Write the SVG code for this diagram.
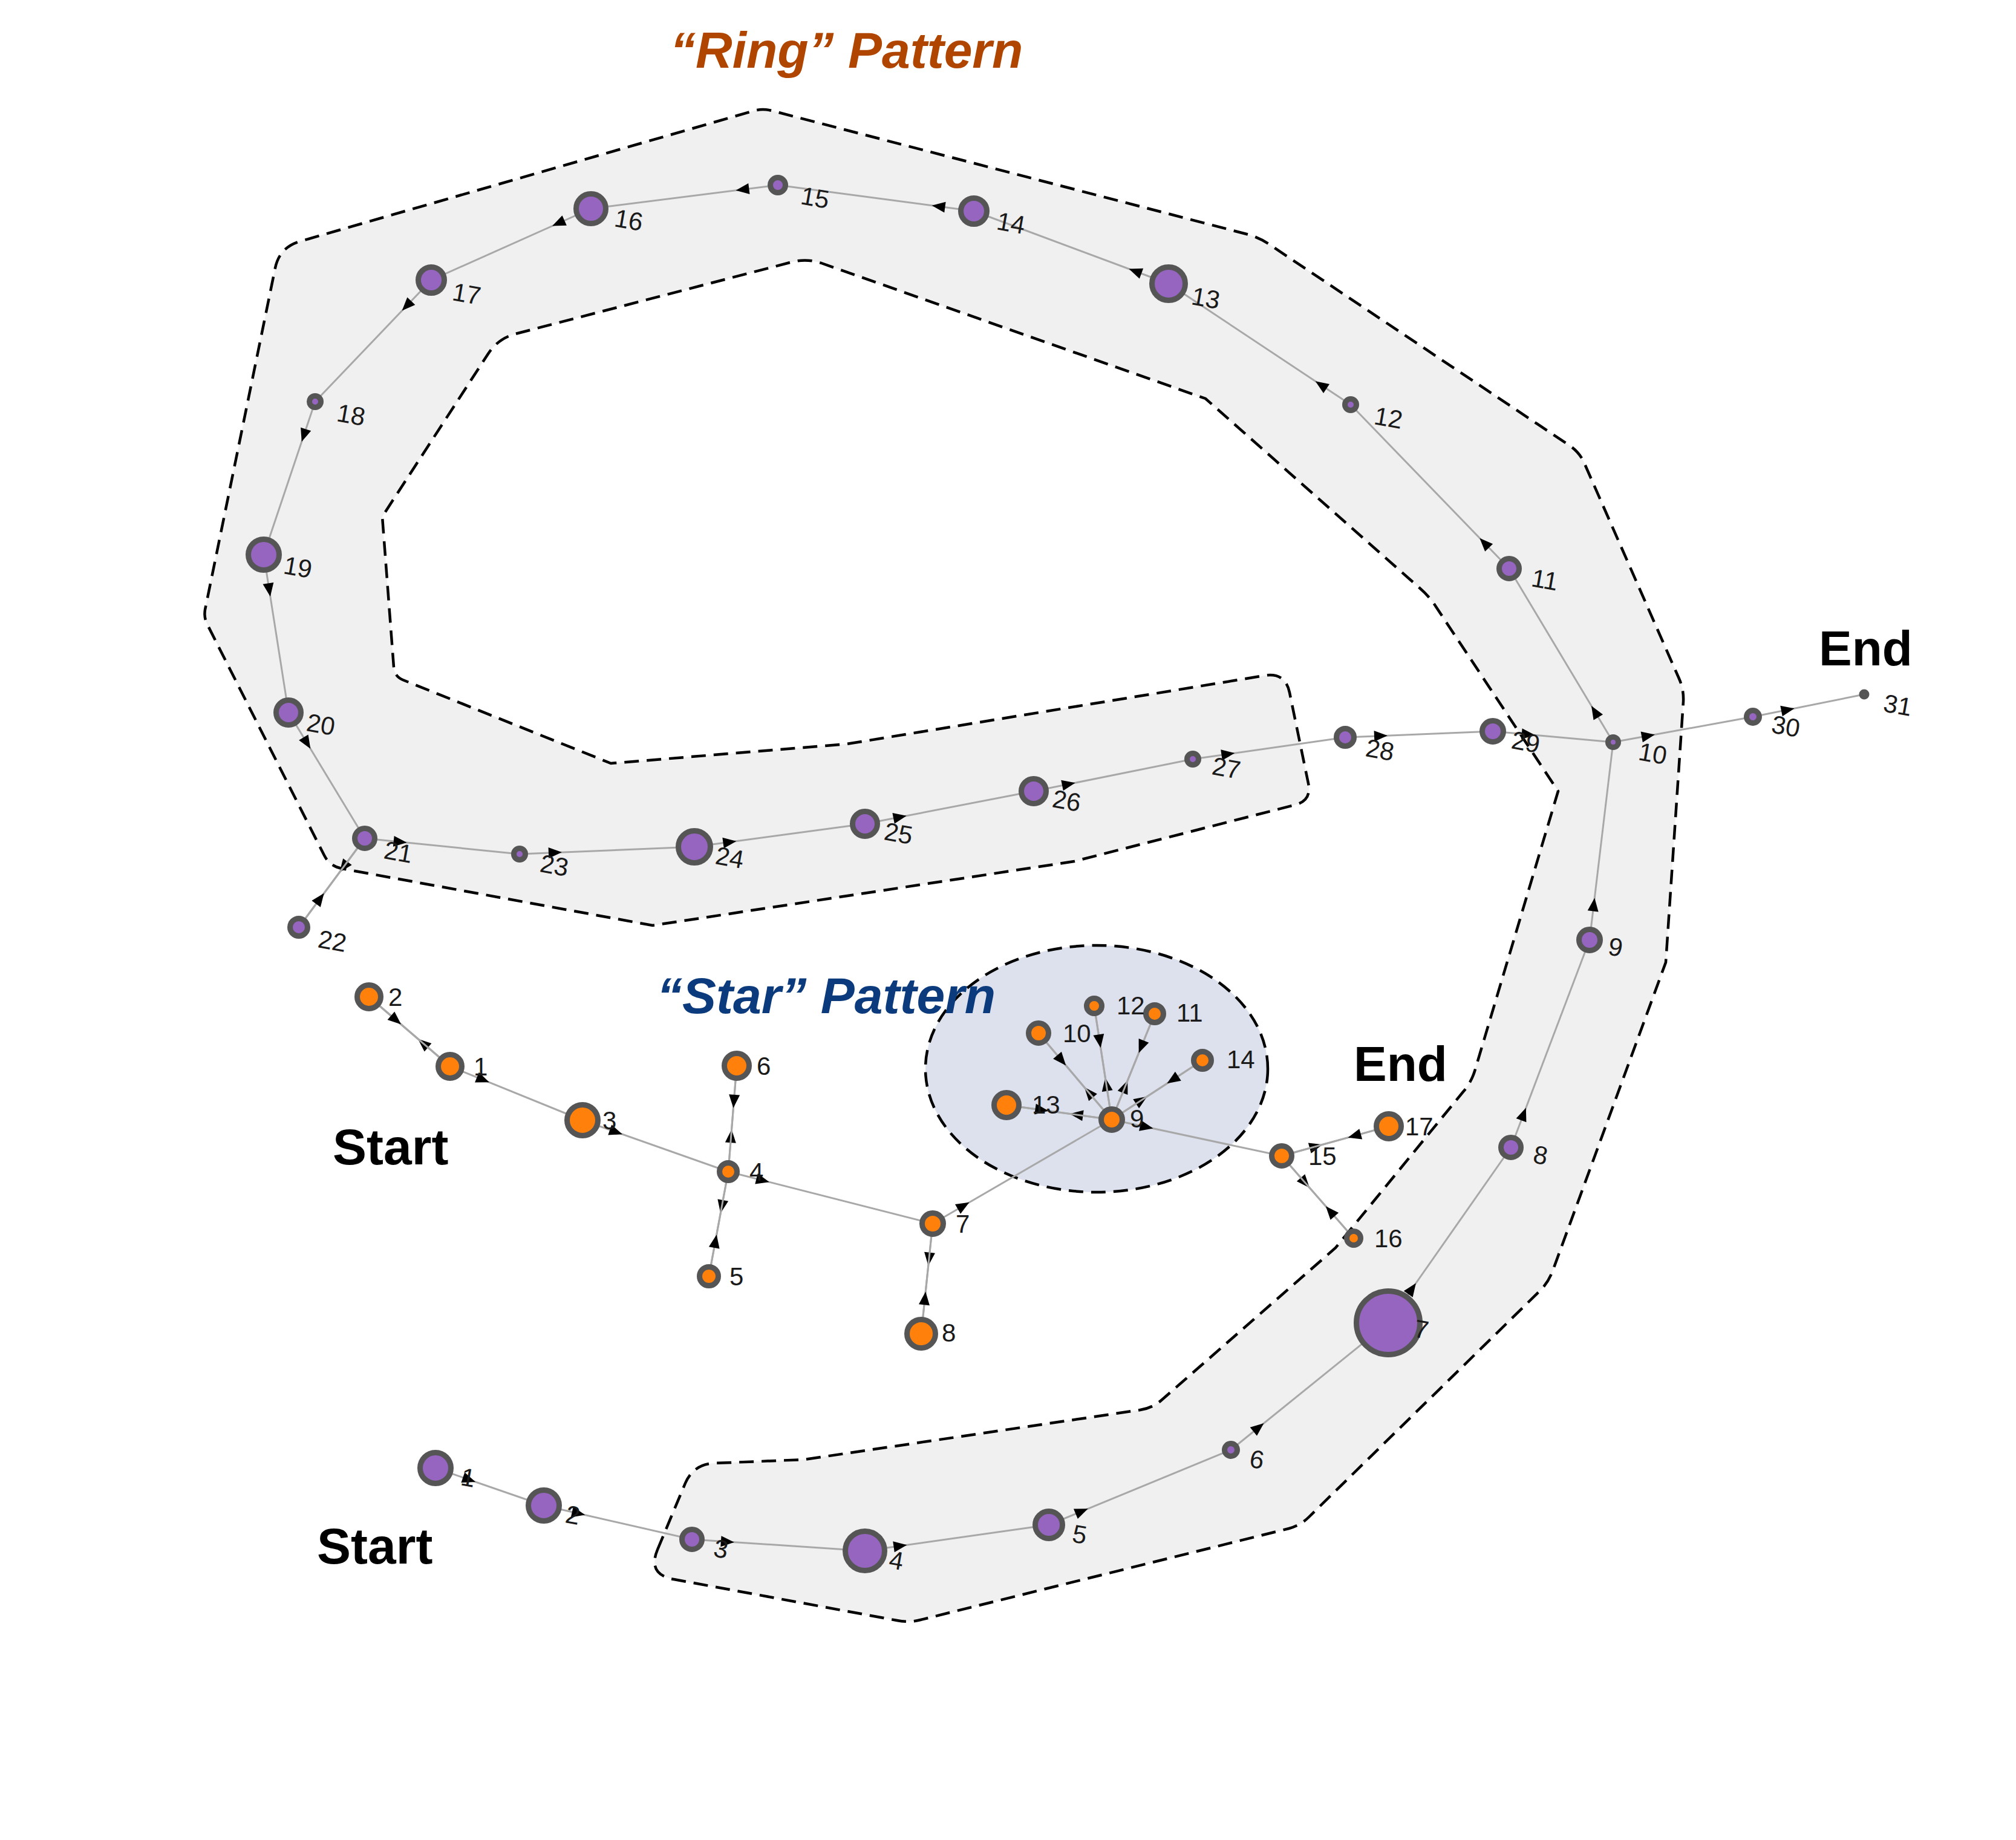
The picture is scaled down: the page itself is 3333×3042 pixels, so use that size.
<svg xmlns="http://www.w3.org/2000/svg" width="3333" height="3042" viewBox="0 0 3333 3042">
<style>
.zone{fill:#f0f0f0;stroke:#000;stroke-width:4.5;stroke-dasharray:24 13}
.star{fill:#dde1ed;stroke:#000;stroke-width:4.5;stroke-dasharray:24 13}
.e{stroke:#a8a8a8;stroke-width:3;fill:none;marker-start:url(#a)}
.pn{fill:#9565c0;stroke:#555;stroke-width:9}
.on{fill:#ff800a;stroke:#555;stroke-width:9}
.lbl{font-family:"Liberation Sans",Arial,sans-serif;font-size:42px;fill:#1a1a1a}
.big{font-family:"Liberation Sans",Arial,sans-serif;font-weight:bold;fill:#000}
.title{font-family:"Liberation Sans",Arial,sans-serif;font-weight:bold;font-style:italic;font-size:84px}
</style>
<defs>
<marker id="a" markerUnits="userSpaceOnUse" orient="auto" refX="0" refY="0" markerWidth="200" markerHeight="200" viewBox="-100 -100 200 200" overflow="visible">
<path d="M48,-9 L70,0 L48,9 Z" fill="#000"/>
</marker>
<marker id="b" markerUnits="userSpaceOnUse" orient="auto" refX="0" refY="0" markerWidth="200" markerHeight="200" viewBox="-100 -100 200 200" overflow="visible">
<path d="M58,-9 L80,0 L58,9 Z" fill="#000"/>
</marker>
</defs>
<rect width="3333" height="3042" fill="#fff"/>
<g id="ring-zone">
<path class="zone" d="M1087,2562 L1133,2452 Q1147,2420 1182,2419 L1330,2413 L1885,2331 Q1905,2328 1920,2315 L2208,2063 L2419,1805 Q2432,1790 2438,1771 L2576,1308 L2374,1003 Q2363,986 2348,973 L1993,659 L1358,435 Q1334,427 1310,433 L852,552 Q823,560 807,585 L632,854 L651,1103 Q652,1118 666,1124 L1010,1262 L1400,1230 L2090,1117 Q2125,1111 2132,1145 L2163,1295 Q2169,1324 2140,1331 L1776,1424 L1079,1530 L565,1436 Q545,1432 536,1414 L342,1031 Q337,1020 339,1008 L455,443 Q462,409 496,399 L1247,183 Q1261,179 1276,183 L2061,387 Q2080,392 2097,403 L2594,736 Q2611,747 2619,765 L2776,1122 Q2784,1140 2783,1160 L2754,1591 L2567,2101 Q2560,2120 2546,2134 L2164,2508 Q2150,2522 2131,2527 L1522,2678 Q1503,2683 1483,2679 L1114,2611 Q1070,2603 1087,2562 Z"/>
</g>
<g id="star-zone">
<ellipse class="star" cx="1813" cy="1767" rx="283" ry="204"/>
</g>
<g id="titles">
<text class="title" x="1108" y="112" fill="#b04500">“Ring” Pattern</text>
<text class="title" x="1086" y="1675" fill="#0b3b7c">“Star” Pattern</text>
<text class="big" x="550" y="1925" font-size="84">Start</text>
<text class="big" x="524" y="2585" font-size="84">Start</text>
<text class="big" x="3007" y="1100" font-size="82">End</text>
<text class="big" x="2238" y="1787" font-size="82">End</text>
</g>
<g id="connectors">
<line class="e" x1="720" y1="2427" x2="899" y2="2489"/>
<line class="e" x1="899" y1="2489" x2="1144" y2="2545"/>
<line class="e" x1="1144" y1="2545" x2="1430" y2="2564"/>
<line class="e" x1="1430" y1="2564" x2="1734" y2="2521"/>
<line class="e" x1="1734" y1="2521" x2="2035" y2="2397"/>
<line class="e" x1="2035" y1="2397" x2="2295" y2="2187"/>
<line class="e" x1="2295" y1="2187" x2="2498" y2="1897" style="marker-start:url(#b)"/>
<line class="e" x1="2498" y1="1897" x2="2628" y2="1554"/>
<line class="e" x1="2628" y1="1554" x2="2667" y2="1227"/>
<line class="e" x1="2667" y1="1227" x2="2495" y2="940"/>
<line class="e" x1="2495" y1="940" x2="2233" y2="669"/>
<line class="e" x1="2233" y1="669" x2="1932" y2="469"/>
<line class="e" x1="1932" y1="469" x2="1610" y2="349"/>
<line class="e" x1="1610" y1="349" x2="1286" y2="306"/>
<line class="e" x1="1286" y1="306" x2="977" y2="345"/>
<line class="e" x1="977" y1="345" x2="713" y2="463"/>
<line class="e" x1="713" y1="463" x2="521" y2="664"/>
<line class="e" x1="521" y1="664" x2="436" y2="917"/>
<line class="e" x1="436" y1="917" x2="477" y2="1178"/>
<line class="e" x1="477" y1="1178" x2="603" y2="1386"/>
<line class="e" x1="603" y1="1386" x2="494" y2="1533"/>
<line class="e" x1="494" y1="1533" x2="603" y2="1386"/>
<line class="e" x1="603" y1="1386" x2="859" y2="1412"/>
<line class="e" x1="859" y1="1412" x2="1148" y2="1400"/>
<line class="e" x1="1148" y1="1400" x2="1430" y2="1362"/>
<line class="e" x1="1430" y1="1362" x2="1709" y2="1308"/>
<line class="e" x1="1709" y1="1308" x2="1972" y2="1255"/>
<line class="e" x1="1972" y1="1255" x2="2224" y2="1219"/>
<line class="e" x1="2224" y1="1219" x2="2468" y2="1209"/>
<line class="e" x1="2468" y1="1209" x2="2667" y2="1227"/>
<line class="e" x1="2667" y1="1227" x2="2898" y2="1185"/>
<line class="e" x1="2898" y1="1185" x2="3082" y2="1148"/>
<line class="e" x1="744" y1="1763" x2="610" y2="1648"/>
<line class="e" x1="610" y1="1648" x2="744" y2="1763"/>
<line class="e" x1="744" y1="1763" x2="963" y2="1852"/>
<line class="e" x1="963" y1="1852" x2="1204" y2="1937"/>
<line class="e" x1="1204" y1="1937" x2="1218" y2="1762"/>
<line class="e" x1="1218" y1="1762" x2="1204" y2="1937"/>
<line class="e" x1="1204" y1="1937" x2="1172" y2="2110"/>
<line class="e" x1="1172" y1="2110" x2="1204" y2="1937"/>
<line class="e" x1="1204" y1="1937" x2="1542" y2="2023"/>
<line class="e" x1="1542" y1="2023" x2="1523" y2="2205"/>
<line class="e" x1="1523" y1="2205" x2="1542" y2="2023"/>
<line class="e" x1="1542" y1="2023" x2="1838" y2="1851"/>
<line class="e" x1="1838" y1="1851" x2="1717" y2="1708"/>
<line class="e" x1="1717" y1="1708" x2="1838" y2="1851"/>
<line class="e" x1="1838" y1="1851" x2="1909" y2="1676"/>
<line class="e" x1="1909" y1="1676" x2="1838" y2="1851"/>
<line class="e" x1="1838" y1="1851" x2="1809" y2="1663"/>
<line class="e" x1="1809" y1="1663" x2="1838" y2="1851"/>
<line class="e" x1="1838" y1="1851" x2="1664" y2="1827"/>
<line class="e" x1="1664" y1="1827" x2="1838" y2="1851"/>
<line class="e" x1="1838" y1="1851" x2="1988" y2="1753"/>
<line class="e" x1="1988" y1="1753" x2="1838" y2="1851"/>
<line class="e" x1="1838" y1="1851" x2="2119" y2="1911"/>
<line class="e" x1="2119" y1="1911" x2="2238" y2="2047"/>
<line class="e" x1="2238" y1="2047" x2="2119" y2="1911"/>
<line class="e" x1="2119" y1="1911" x2="2296" y2="1862"/>
<line class="e" x1="2296" y1="1862" x2="2119" y2="1911"/>
</g>
<g id="ring-nodes">
<g id="p1"><circle class="pn" cx="720" cy="2427" r="25.5"/><text class="lbl" x="760" y="2455" transform="rotate(10 760 2455)">1</text></g>
<g id="p2"><circle class="pn" cx="899" cy="2489" r="25.5"/><text class="lbl" x="933" y="2517" transform="rotate(10 933 2517)">2</text></g>
<g id="p3"><circle class="pn" cx="1144" cy="2545" r="16.5"/><text class="lbl" x="1178" y="2573" transform="rotate(10 1178 2573)">3</text></g>
<g id="p4"><circle class="pn" cx="1430" cy="2564" r="32.5"/><text class="lbl" x="1468" y="2592" transform="rotate(10 1468 2592)">4</text></g>
<g id="p5"><circle class="pn" cx="1734" cy="2521" r="22.5"/><text class="lbl" x="1771" y="2549" transform="rotate(10 1771 2549)">5</text></g>
<g id="p6"><circle class="pn" cx="2035" cy="2397" r="10.5"/><text class="lbl" x="2064" y="2425" transform="rotate(10 2064 2425)">6</text></g>
<g id="p7"><circle class="pn" cx="2295" cy="2187" r="52.5"/><text class="lbl" x="2336" y="2210" transform="rotate(10 2336 2210)">7</text></g>
<g id="p8"><circle class="pn" cx="2498" cy="1897" r="16.5"/><text class="lbl" x="2533" y="1922" transform="rotate(10 2533 1922)">8</text></g>
<g id="p9"><circle class="pn" cx="2628" cy="1554" r="17.5"/><text class="lbl" x="2657" y="1578" transform="rotate(10 2657 1578)">9</text></g>
<g id="p10"><circle class="pn" cx="2667" cy="1227" r="8.5"/><text class="lbl" x="2707" y="1256" transform="rotate(10 2707 1256)">10</text></g>
<g id="p11"><circle class="pn" cx="2495" cy="940" r="16.5"/><text class="lbl" x="2530" y="969" transform="rotate(10 2530 969)">11</text></g>
<g id="p12"><circle class="pn" cx="2233" cy="669" r="9.5"/><text class="lbl" x="2270" y="701" transform="rotate(10 2270 701)">12</text></g>
<g id="p13"><circle class="pn" cx="1932" cy="469" r="27.5"/><text class="lbl" x="1968" y="503" transform="rotate(10 1968 503)">13</text></g>
<g id="p14"><circle class="pn" cx="1610" cy="349" r="21.5"/><text class="lbl" x="1646" y="379" transform="rotate(10 1646 379)">14</text></g>
<g id="p15"><circle class="pn" cx="1286" cy="306" r="12.5"/><text class="lbl" x="1322" y="337" transform="rotate(10 1322 337)">15</text></g>
<g id="p16"><circle class="pn" cx="977" cy="345" r="24.5"/><text class="lbl" x="1014" y="374" transform="rotate(10 1014 374)">16</text></g>
<g id="p17"><circle class="pn" cx="713" cy="463" r="21.5"/><text class="lbl" x="746" y="496" transform="rotate(10 746 496)">17</text></g>
<g id="p18"><circle class="pn" cx="521" cy="664" r="9.5"/><text class="lbl" x="555" y="696" transform="rotate(10 555 696)">18</text></g>
<g id="p19"><circle class="pn" cx="436" cy="917" r="25.5"/><text class="lbl" x="467" y="948" transform="rotate(10 467 948)">19</text></g>
<g id="p20"><circle class="pn" cx="477" cy="1178" r="20.5"/><text class="lbl" x="505" y="1208" transform="rotate(10 505 1208)">20</text></g>
<g id="p21"><circle class="pn" cx="603" cy="1386" r="16.5"/><text class="lbl" x="633" y="1419" transform="rotate(10 633 1419)">21</text></g>
<g id="p22"><circle class="pn" cx="494" cy="1533" r="14.5"/><text class="lbl" x="524" y="1566" transform="rotate(10 524 1566)">22</text></g>
<g id="p23"><circle class="pn" cx="859" cy="1412" r="9.5"/><text class="lbl" x="891" y="1441" transform="rotate(10 891 1441)">23</text></g>
<g id="p24"><circle class="pn" cx="1148" cy="1400" r="26.5"/><text class="lbl" x="1181" y="1428" transform="rotate(10 1181 1428)">24</text></g>
<g id="p25"><circle class="pn" cx="1430" cy="1362" r="20.5"/><text class="lbl" x="1460" y="1388" transform="rotate(10 1460 1388)">25</text></g>
<g id="p26"><circle class="pn" cx="1709" cy="1308" r="20.5"/><text class="lbl" x="1738" y="1334" transform="rotate(10 1738 1334)">26</text></g>
<g id="p27"><circle class="pn" cx="1972" cy="1255" r="9.5"/><text class="lbl" x="2002" y="1280" transform="rotate(10 2002 1280)">27</text></g>
<g id="p28"><circle class="pn" cx="2224" cy="1219" r="14.5"/><text class="lbl" x="2256" y="1250" transform="rotate(10 2256 1250)">28</text></g>
<g id="p29"><circle class="pn" cx="2468" cy="1209" r="17.5"/><text class="lbl" x="2497" y="1237" transform="rotate(10 2497 1237)">29</text></g>
<g id="p30"><circle class="pn" cx="2898" cy="1185" r="10.5"/><text class="lbl" x="2927" y="1211" transform="rotate(10 2927 1211)">30</text></g>
<g id="p31"><circle class="pn" cx="3082" cy="1148" r="4"/><text class="lbl" x="3112" y="1176" transform="rotate(10 3112 1176)">31</text></g>
</g>
<g id="star-nodes">
<g id="o1"><circle class="on" cx="744" cy="1763" r="19.5"/><text class="lbl" x="783" y="1778">1</text></g>
<g id="o2"><circle class="on" cx="610" cy="1648" r="19.5"/><text class="lbl" x="642" y="1663">2</text></g>
<g id="o3"><circle class="on" cx="963" cy="1852" r="25.5"/><text class="lbl" x="996" y="1867">3</text></g>
<g id="o4"><circle class="on" cx="1204" cy="1937" r="14.5"/><text class="lbl" x="1239" y="1952">4</text></g>
<g id="o5"><circle class="on" cx="1172" cy="2110" r="15.5"/><text class="lbl" x="1206" y="2125">5</text></g>
<g id="o6"><circle class="on" cx="1218" cy="1762" r="20.5"/><text class="lbl" x="1251" y="1777">6</text></g>
<g id="o7"><circle class="on" cx="1542" cy="2023" r="17.5"/><text class="lbl" x="1580" y="2038">7</text></g>
<g id="o8"><circle class="on" cx="1523" cy="2205" r="23.5"/><text class="lbl" x="1557" y="2218">8</text></g>
<g id="o9"><circle class="on" cx="1838" cy="1851" r="17.5"/><text class="lbl" x="1868" y="1864">9</text></g>
<g id="o10"><circle class="on" cx="1717" cy="1708" r="16.5"/><text class="lbl" x="1757" y="1723">10</text></g>
<g id="o11"><circle class="on" cx="1909" cy="1676" r="14.5"/><text class="lbl" x="1945" y="1689">11</text></g>
<g id="o12"><circle class="on" cx="1809" cy="1663" r="12.5"/><text class="lbl" x="1846" y="1677">12</text></g>
<g id="o13"><circle class="on" cx="1664" cy="1827" r="20.5"/><text class="lbl" x="1706" y="1841">13</text></g>
<g id="o14"><circle class="on" cx="1988" cy="1753" r="14.5"/><text class="lbl" x="2028" y="1766">14</text></g>
<g id="o15"><circle class="on" cx="2119" cy="1911" r="16.5"/><text class="lbl" x="2163" y="1926">15</text></g>
<g id="o16"><circle class="on" cx="2238" cy="2047" r="11.5"/><text class="lbl" x="2272" y="2062">16</text></g>
<g id="o17"><circle class="on" cx="2296" cy="1862" r="20.5"/><text class="lbl" x="2323" y="1877">17</text></g>
</g>
</svg>
